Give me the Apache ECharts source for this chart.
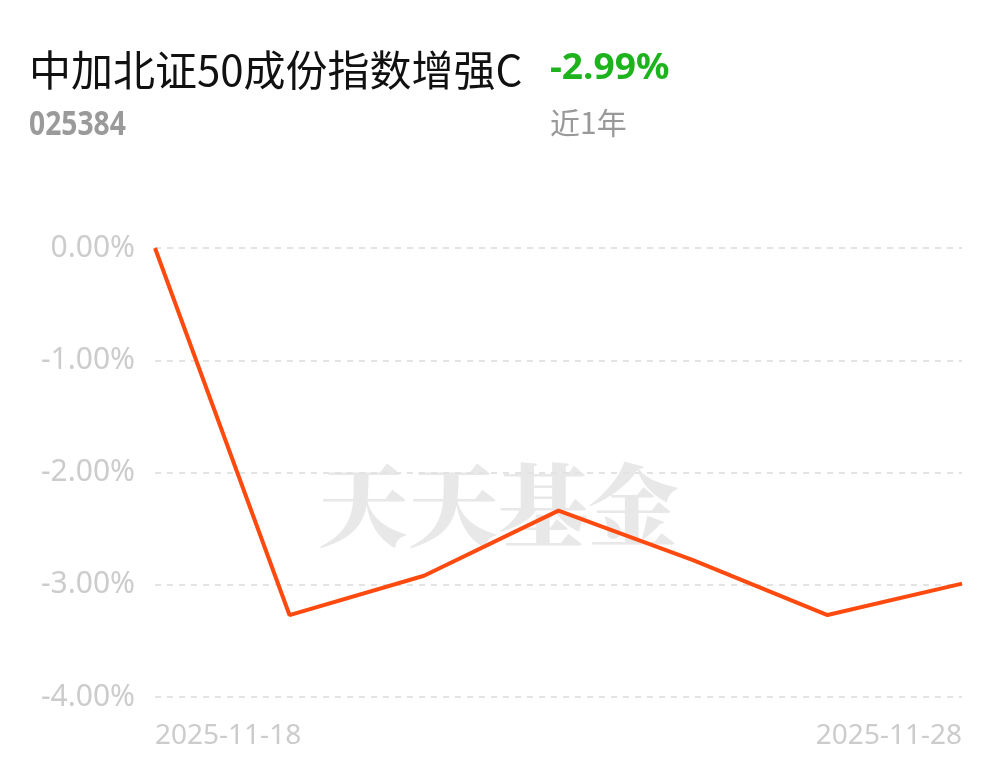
<!DOCTYPE html>
<html>
<head>
<meta charset="utf-8">
<script src="https://cdn.jsdelivr.net/npm/echarts@6/dist/echarts.min.js"></script>
<style>
html,body{margin:0;padding:0;background:#fff;}
#c{width:1001px;height:766px;}
</style>
</head>
<body>
<div id="c"></div>
<script>
var fundName = "中加北证50成份指数增强C";
var fundCode = "025384";
var periodReturn = "-2.99%";
var periodLabel = "近1年";
var dates = ["2025-11-18","2025-11-19","2025-11-20","2025-11-21","2025-11-24","2025-11-25","2025-11-28"];
var values = [0.00, -3.27, -2.92, -2.34, -2.78, -3.27, -2.99];
var yTicks = [0, -1, -2, -3, -4];

var chart = echarts.init(document.getElementById('c'));
var font = '"Noto Sans CJK SC","Noto Sans",sans-serif';
chart.setOption({
  backgroundColor: '#fff',
  animation: false,
  graphic: [
    {type:'text', x:29, y:49, style:{text:fundName, font:'400 42px '+font, fill:'#111'}},
    {type:'text', x:550, y:51, scaleX:1.03, style:{text:periodReturn, font:'700 36px "Noto Sans",sans-serif', fill:'#1db31d'}},
    {type:'text', x:29, y:108, scaleX:0.83, style:{text:fundCode, font:'700 34px "Noto Sans",sans-serif', fill:'#9a9a9a'}},
    {type:'text', x:550, y:108, style:{text:periodLabel, font:'400 30px '+font, fill:'#999'}},
    {type:'text', left:318, top:460, z:-10, style:{text:'天天基金', font:'900 90px "Noto Serif CJK SC","Noto Sans CJK SC",serif', fill:'#e8e8e8'}}
  ],
  grid: {left:155, right:39, top:248, bottom:69, containLabel:false},
  xAxis: {
    type:'category',
    data: dates,
    boundaryGap:false,
    axisLine:{show:false},
    axisTick:{show:false},
    splitLine:{show:false},
    axisLabel:{
      interval:function(i){return i===0 || i===dates.length-1;},
      color:'#cccccc', fontSize:28, fontFamily:'"Noto Sans",sans-serif', margin:25,
      alignMinLabel:'left', alignMaxLabel:'right'
    }
  },
  yAxis: {
    type:'value',
    min: yTicks[yTicks.length-1], max: yTicks[0], interval:1,
    axisLine:{show:false},
    axisTick:{show:false},
    axisLabel:{color:'#cccccc', fontSize:30, fontFamily:'"Noto Sans",sans-serif', margin:20,
      formatter:function(v){return v.toFixed(2)+'%';}},
    splitLine:{lineStyle:{color:'#e3e3e3', type:[6,6], width:2}}
  },
  series: [{
    type:'line',
    data: values,
    symbol:'none',
    lineStyle:{color:'#ff4a0f', width:4},
    z:5
  }]
});
</script>
</body>
</html>
